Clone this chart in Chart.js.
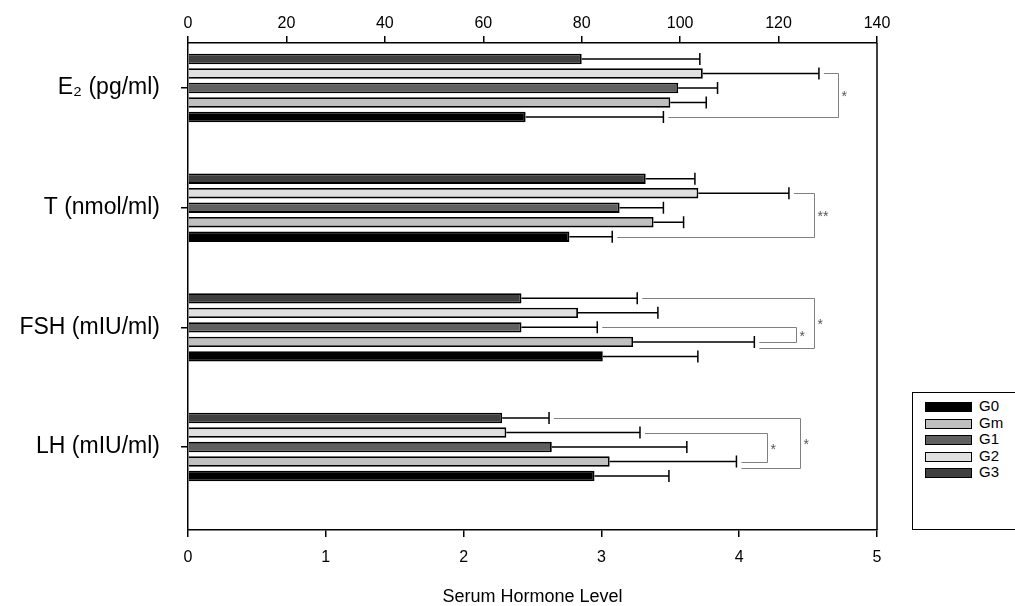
<!DOCTYPE html>
<html lang="en">
<head>
<meta charset="UTF-8">
<title>Serum Hormone Level</title>
<script src="https://cdn.jsdelivr.net/npm/chart.js"></script>
<style>
  body { margin: 0; background: #fff; font-family: 'Liberation Sans', Arial, sans-serif; }
  .wrap { position: relative; width: 1015px; height: 606px; overflow: hidden; }
  #legend {
    position: absolute; left: 912px; top: 392px; width: 130px; height: 138px;
    border: 1.5px solid #000; box-sizing: border-box; background: #fff;
  }
  .item { position: absolute; left: 12px; height: 16px; font-size: 15px; line-height: 16px; color: #000; white-space: nowrap; }
  .sw { display: inline-block; width: 45px; height: 8px; border: 1.2px solid #000; vertical-align: -1px; margin-right: 7px; }
</style>
</head>
<body>
<div class="wrap">
  <canvas id="chart"></canvas>
  <div id="legend"></div>
</div>

<script>
// categories (y axis, top to bottom); E2 and T use the top axis, FSH and LH the bottom one
const categories = ['E\u2082 (pg/ml)', 'T (nmol/ml)', 'FSH (mIU/ml)', 'LH (mIU/ml)'];
const series = ['G0', 'Gm', 'G1', 'G2', 'G3'];
const colors = ['#000000', '#c0c0c0', '#606060', '#e0e0e0', '#404040'];

// means per category
const g0Mean = [68.6, 77.5, 3.01, 2.95];
const gmMean = [98.0, 94.6, 3.23, 3.06];
const g1Mean = [99.6, 87.7, 2.42, 2.64];
const g2Mean = [104.6, 103.7, 2.83, 2.31];
const g3Mean = [80.0, 93.0, 2.42, 2.28];

// error (one side) per category
const g0Err = [28.0, 8.7, 0.69, 0.54];
const gmErr = [7.3, 6.1, 0.88, 0.92];
const g1Err = [8.0, 8.9, 0.55, 0.98];
const g2Err = [23.6, 18.4, 0.58, 0.97];
const g3Err = [24.0, 10.0, 0.84, 0.34];

// significance brackets
const bracketCat = [0, 1, 2, 2, 3, 3];
const bracketFrom = ['G2', 'G2', 'G1', 'G3', 'G2', 'G3'];
const bracketTo = ['G0', 'G0', 'Gm', 'Gm', 'Gm', 'Gm'];
const bracketX = [132, 127.3, 4.41, 4.54, 4.20, 4.44];
const bracketOuter = [false, false, false, true, false, true];
const bracketLabel = ['*', '**', '*', '*', '*', '*'];

const meanSets = [g0Mean, gmMean, g1Mean, g2Mean, g3Mean];
const errSets = [g0Err, gmErr, g1Err, g2Err, g3Err];

// G3 on top of each group, G0 at the bottom
const datasets = [];
for (let s = series.length - 1; s >= 0; s--) {
    [['xTop', [0, 1]], ['xBottom', [2, 3]]].forEach(([axis, cats]) => {
        datasets.push({
            label: series[s],
            stack: series[s],
            xAxisID: axis,
            yAxisID: 'y',
            data: cats.map(c => ({ x: meanSets[s][c], y: c })),
            errors: cats.map(c => errSets[s][c]),
            backgroundColor: colors[s],
            borderColor: '#000',
            borderWidth: 1.8,
            categoryPercentage: 0.606,
            barPercentage: 0.72,
            skipNull: true
        });
    });
}

function barAt(chart, name, cat) {
    const axis = cat < 2 ? 'xTop' : 'xBottom';
    const di = chart.data.datasets.findIndex(d => d.label === name && d.xAxisID === axis);
    const ds = chart.data.datasets[di];
    const i = ds.data.findIndex(p => p.y === cat);
    const el = chart.getDatasetMeta(di).data[i];
    const end = chart.scales[axis].getPixelForValue(ds.data[i].x + ds.errors[i]);
    return { y: el.y, end: end };
}

const extras = {
    id: 'extras',
    afterDatasetsDraw(chart) {
        const ctx = chart.ctx;
        const area = chart.chartArea;
        ctx.save();

        // error bars
        ctx.strokeStyle = '#000';
        ctx.lineWidth = 1.5;
        chart.data.datasets.forEach((ds, di) => {
            const meta = chart.getDatasetMeta(di);
            meta.data.forEach((el, i) => {
                const end = chart.scales[ds.xAxisID].getPixelForValue(ds.data[i].x + ds.errors[i]);
                ctx.beginPath();
                ctx.moveTo(el.x, el.y);
                ctx.lineTo(end, el.y);
                ctx.moveTo(end, el.y - 6);
                ctx.lineTo(end, el.y + 6);
                ctx.stroke();
            });
        });

        // right frame line
        ctx.beginPath();
        ctx.moveTo(area.right, area.top);
        ctx.lineTo(area.right, area.bottom);
        ctx.stroke();

        // brackets
        ctx.strokeStyle = '#808080';
        ctx.lineWidth = 1;
        ctx.fillStyle = '#555';
        ctx.font = '14px "Liberation Sans", Arial, sans-serif';
        ctx.textBaseline = 'middle';
        bracketCat.forEach((cat, k) => {
            const a = barAt(chart, bracketFrom[k], cat);
            const b = barAt(chart, bracketTo[k], cat);
            const vx = chart.scales[cat < 2 ? 'xTop' : 'xBottom'].getPixelForValue(bracketX[k]);
            const y1 = Math.round(a.y) + 0.5;
            const y2 = Math.round(b.y + (bracketOuter[k] ? 6 : 0)) + 0.5;
            const x = Math.round(vx) + 0.5;
            ctx.beginPath();
            ctx.moveTo(a.end + 5, y1);
            ctx.lineTo(x, y1);
            ctx.lineTo(x, y2);
            ctx.lineTo(b.end + 5, y2);
            ctx.stroke();
            ctx.fillText(bracketLabel[k], x + 3, (y1 + y2) / 2 + 2);
        });
        ctx.restore();
    }
};

const axisGrid = { drawOnChartArea: false, tickLength: 7, color: '#000', lineWidth: 1.5, offset: false };
const axisBorder = { color: '#000', width: 1.5 };
const tickFont = { family: "'Liberation Sans', Arial, sans-serif", size: 16 };

const chart = new Chart(document.getElementById('chart'), {
    type: 'bar',
    data: { datasets: datasets },
    options: {
        indexAxis: 'y',
        responsive: true,
        maintainAspectRatio: false,
        animation: false,
        layout: { padding: { right: 138 } },
        plugins: { legend: { display: false }, tooltip: { enabled: false } },
        scales: {
            y: {
                type: 'linear',
                position: 'left',
                reverse: true,
                offset: false,
                min: -0.376,
                max: 3.693,
                afterBuildTicks: s => { s.ticks = categories.map((c, i) => ({ value: i })); },
                afterFit: s => { s.width = 188; },
                ticks: {
                    callback: v => categories[v],
                    font: { family: "'Liberation Sans', Arial, sans-serif", size: 23 },
                    color: '#000',
                    padding: 21
                },
                grid: axisGrid,
                border: axisBorder
            },
            xTop: {
                type: 'linear',
                position: 'top',
                min: 0,
                max: 140,
                afterFit: s => { s.height = 43; },
                ticks: { stepSize: 20, font: tickFont, color: '#000', padding: 3 },
                grid: axisGrid,
                border: axisBorder
            },
            xBottom: {
                type: 'linear',
                position: 'bottom',
                min: 0,
                max: 5,
                afterFit: s => { s.height = 76; },
                ticks: { stepSize: 1, font: tickFont, color: '#000', padding: 11 },
                grid: axisGrid,
                border: axisBorder,
                title: {
                    display: true,
                    text: 'Serum Hormone Level',
                    font: { family: "'Liberation Sans', Arial, sans-serif", size: 18 },
                    color: '#000',
                    padding: { top: 0, bottom: -2 }
                }
            }
        }
    },
    plugins: [extras]
});

// legend box (G0 first)
const legend = document.getElementById('legend');
series.forEach((name, i) => {
    const item = document.createElement('div');
    item.className = 'item';
    item.style.top = (5 + i * 16.5) + 'px';
    const sw = document.createElement('span');
    sw.className = 'sw';
    sw.style.background = colors[i];
    item.appendChild(sw);
    item.appendChild(document.createTextNode(name));
    legend.appendChild(item);
});
</script>
</body>
</html>
